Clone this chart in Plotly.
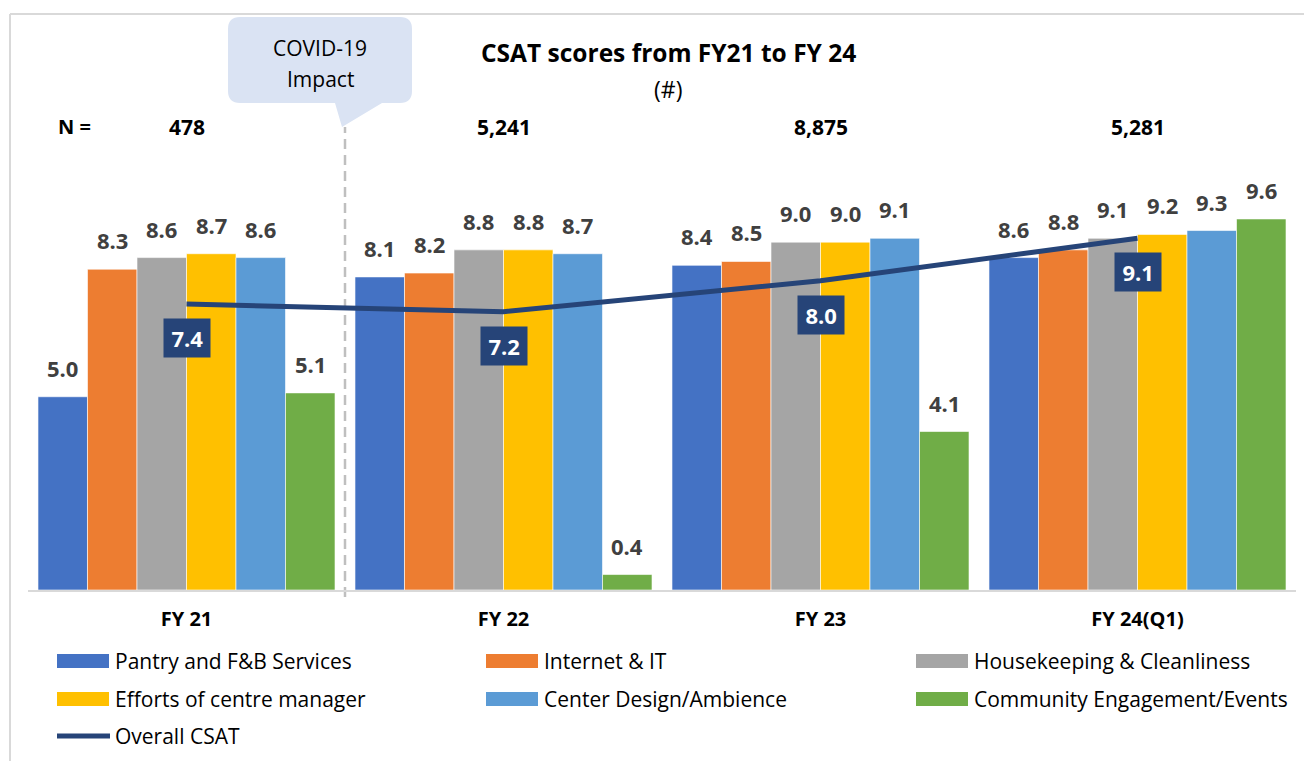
import plotly.graph_objects as go

# ---------------- data ----------------
categories = ["FY 21", "FY 22", "FY 23", "FY 24(Q1)"]
n_values = ["478", "5,241", "8,875", "5,281"]

series_names = [
    "Pantry and F&B Services",
    "Internet & IT",
    "Housekeeping & Cleanliness",
    "Efforts of centre manager",
    "Center Design/Ambience",
    "Community Engagement/Events",
]
pantry = [5.0, 8.1, 8.4, 8.6]
internet = [8.3, 8.2, 8.5, 8.8]
housekeeping = [8.6, 8.8, 9.0, 9.1]
efforts = [8.7, 8.8, 9.0, 9.2]
design = [8.6, 8.7, 9.1, 9.3]
community = [5.1, 0.4, 4.1, 9.6]
overall_name = "Overall CSAT"
overall = [7.4, 7.2, 8.0, 9.1]

series_values = [pantry, internet, housekeeping, efforts, design, community]
series_colors = ["#4472C4", "#ED7D31", "#A5A5A5", "#FFC000", "#5B9BD5", "#70AD47"]
line_color = "#264478"

# ---------------- layout constants ----------------
# page body has an 8px margin, so the figure is offset by 8px on screen
OFF = 8
SW, SH = 1312, 761                 # screen size
W, H = SW - OFF, SH - OFF          # figure size
PLOT_L, PLOT_R, PLOT_T, PLOT_B = 28, 1296, 120, 590   # plot area on screen
L, R, T, B = PLOT_L - OFF, W - (PLOT_R - OFF), PLOT_T - OFF, H - (PLOT_B - OFF)
PW, PH = W - L - R, H - T - B
YMAX = 12.16
FONT = "Open Sans"
BARGAP = 0.063
NS = len(series_names)
BW = (1 - BARGAP) / NS


def X(px):
    """screen px -> paper x"""
    return (px - PLOT_L) / PW


def Y(py):
    """screen px -> paper y"""
    return (PLOT_B - py) / PH


xs = list(range(len(categories)))

fig = go.Figure()
for name, vals, col in zip(series_names, series_values, series_colors):
    fig.add_trace(go.Bar(
        x=xs, y=vals, name=name, marker=dict(color=col, line=dict(color="white", width=0.6)),
        showlegend=False, hoverinfo="x+y+name",
    ))

fig.add_trace(go.Scatter(
    x=xs, y=overall, name=overall_name, mode="lines",
    line=dict(color=line_color, width=5), showlegend=False,
))

annotations = []
# bar value labels
for i, vals in enumerate(series_values):
    for k, v in enumerate(vals):
        annotations.append(dict(
            x=k + (i - (NS - 1) / 2) * BW, y=v, xref="x", yref="y",
            text=f"{v:.1f}", showarrow=False, xanchor="center", yanchor="bottom", yshift=12,
            font=dict(family=FONT, size=22, color="#404040", weight="bold"),
        ))
# overall CSAT labels
pad_sp = "<span style='font-size:13px'>&nbsp;</span>"
for k, v in enumerate(overall):
    annotations.append(dict(
        x=k, y=v, xref="x", yref="y", text=f"{pad_sp}{v:.1f}{pad_sp}", showarrow=False,
        xanchor="center", yanchor="middle", yshift=-34, bgcolor=line_color, borderpad=4,
        font=dict(family=FONT, size=22, color="white", weight="bold"),
    ))
# N values
annotations.append(dict(
    x=X(74), y=Y(127), xref="paper", yref="paper", text="N =", showarrow=False,
    xanchor="center", yanchor="middle",
    font=dict(family=FONT, size=20, color="black", weight="bold"),
))
for k, nv in enumerate(n_values):
    annotations.append(dict(
        x=k, y=Y(127), xref="x", yref="paper", text=nv, showarrow=False,
        xanchor="center", yanchor="middle",
        font=dict(family=FONT, size=21, color="black", weight="bold"),
    ))
# title
annotations.append(dict(
    x=X(668), y=Y(52), xref="paper", yref="paper", text="CSAT scores from FY21 to FY 24",
    showarrow=False, xanchor="center", yanchor="middle",
    font=dict(family=FONT, size=24.5, color="black", weight="bold"),
))
annotations.append(dict(
    x=X(668), y=Y(89), xref="paper", yref="paper", text="(#)",
    showarrow=False, xanchor="center", yanchor="middle",
    font=dict(family=FONT, size=23, color="black"),
))
# callout text
annotations.append(dict(
    x=X(320), y=Y(48), xref="paper", yref="paper", text="COVID-19",
    showarrow=False, xanchor="center", yanchor="middle",
    font=dict(family=FONT, size=21, color="black"),
))
annotations.append(dict(
    x=X(320), y=Y(79), xref="paper", yref="paper", text="Impact",
    showarrow=False, xanchor="center", yanchor="middle",
    font=dict(family=FONT, size=21, color="black"),
))

shapes = []
# frame
shapes.append(dict(type="line", xref="paper", yref="paper", x0=X(10), x1=X(SW + 5),
                   y0=Y(14), y1=Y(14), line=dict(color="#d9d9d9", width=2)))
shapes.append(dict(type="line", xref="paper", yref="paper", x0=X(10), x1=X(10),
                   y0=Y(14), y1=Y(SH + 5), line=dict(color="#d9d9d9", width=2)))
# COVID divider
shapes.append(dict(type="line", xref="x", yref="paper", x0=0.5, x1=0.5,
                   y0=Y(597), y1=Y(127), line=dict(color="#bfbfbf", width=2.5, dash="10px,6px"),
                   layer="below"))
# callout bubble
bx0, bx1, by0, by1, rr = 228, 412, 17, 103, 12
path = (
    f"M{X(bx0 + rr)},{Y(by0)} L{X(bx1 - rr)},{Y(by0)} Q{X(bx1)},{Y(by0)} {X(bx1)},{Y(by0 + rr)} "
    f"L{X(bx1)},{Y(by1 - rr)} Q{X(bx1)},{Y(by1)} {X(bx1 - rr)},{Y(by1)} "
    f"L{X(382)},{Y(by1)} L{X(342)},{Y(127)} L{X(335)},{Y(by1)} "
    f"L{X(bx0 + rr)},{Y(by1)} Q{X(bx0)},{Y(by1)} {X(bx0)},{Y(by1 - rr)} "
    f"L{X(bx0)},{Y(by0 + rr)} Q{X(bx0)},{Y(by0)} {X(bx0 + rr)},{Y(by0)} Z"
)
shapes.append(dict(type="path", xref="paper", yref="paper", path=path,
                   fillcolor="#DAE3F3", line=dict(width=0), layer="below"))

# custom legend
leg_cols = [57, 486, 916]
leg_rows = [661, 699, 736]
for i, (name, col) in enumerate(zip(series_names, series_colors)):
    cx, ry = leg_cols[i % 3], leg_rows[i // 3]
    shapes.append(dict(type="rect", xref="paper", yref="paper", x0=X(cx), x1=X(cx + 52),
                       y0=Y(ry + 7), y1=Y(ry - 7), fillcolor=col, line=dict(width=0)))
    annotations.append(dict(x=X(cx + 56), y=Y(ry), xref="paper", yref="paper", text=name,
                            showarrow=False, xanchor="left", yanchor="middle",
                            font=dict(family=FONT, size=21, color="black")))
cx, ry = leg_cols[0], leg_rows[2]
shapes.append(dict(type="line", xref="paper", yref="paper", x0=X(cx), x1=X(cx + 53),
                   y0=Y(ry), y1=Y(ry), line=dict(color=line_color, width=5)))
annotations.append(dict(x=X(cx + 56), y=Y(ry), xref="paper", yref="paper", text=overall_name,
                        showarrow=False, xanchor="left", yanchor="middle",
                        font=dict(family=FONT, size=21, color="black")))

fig.update_layout(
    width=W, height=H,
    margin=dict(l=L, r=R, t=T, b=B, pad=0),
    paper_bgcolor="white", plot_bgcolor="white",
    barmode="group", bargap=BARGAP, bargroupgap=0,
    font=dict(family=FONT),
    annotations=annotations, shapes=shapes,
    xaxis=dict(
        range=[-0.5, len(categories) - 0.5], tickvals=xs, ticktext=categories,
        showline=True, linecolor="#d9d9d9", linewidth=2, showgrid=False, zeroline=False,
        ticks="", ticklabelstandoff=10,
        tickfont=dict(family=FONT, size=20, color="black", weight="bold"),
        fixedrange=True,
    ),
    yaxis=dict(range=[0, YMAX], visible=False, showgrid=False, zeroline=False, fixedrange=True),
    showlegend=False,
)

fig.write_html("out.html")
